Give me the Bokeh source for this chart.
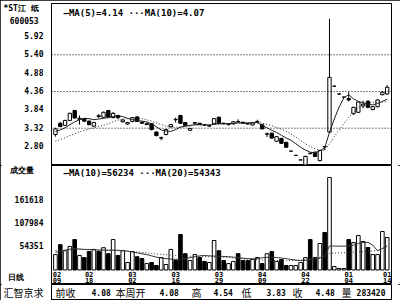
from bokeh.plotting import figure
from bokeh.layouts import column
from bokeh.models import Range1d, FixedTicker, PrintfTickFormatter, Span, Label
from bokeh.core.properties import value
from bokeh.embed import file_html
from bokeh.resources import INLINE

# ---------------- data ----------------
opens  = [3.14, 3.46, 3.40, 3.54, 3.82, 3.57, 3.59, 3.52, 3.38, 3.67,
          3.63, 3.82, 3.62, 3.68, 3.50, 3.44, 3.51, 3.64, 3.49, 3.42,
          3.45, 3.21, 3.04, 3.14, 3.36, 3.57, 3.68, 3.48, 3.26, 3.46,
          3.46, 3.42, 3.38, 3.45, 3.63, 3.46, 3.42, 3.44, 3.51, 3.49,
          3.45, 3.41, 3.49, 3.42, 3.15, 3.18, 2.95, 3.03, 2.92, 2.67,
          2.55, 2.42, 2.28, 2.61, 2.64, 2.40, 2.80, 3.21, 4.51, 4.29,
          4.20, 4.16, 3.73, 3.77, 3.95, 4.08, 3.85, 3.93, 4.27, 4.29]
highs  = [3.33, 3.50, 3.56, 3.76, 3.84, 3.68, 3.61, 3.54, 3.50, 3.72,
          3.79, 3.84, 3.78, 3.70, 3.58, 3.50, 3.64, 3.66, 3.52, 3.48,
          3.47, 3.23, 3.08, 3.30, 3.44, 3.62, 3.70, 3.50, 3.33, 3.50,
          3.47, 3.44, 3.42, 3.60, 3.65, 3.48, 3.44, 3.52, 3.57, 3.50,
          3.47, 3.48, 3.56, 3.44, 3.20, 3.19, 3.10, 3.05, 2.93, 2.67,
          2.55, 2.42, 2.54, 2.63, 2.66, 2.70, 2.81, 6.42, 4.52, 4.30,
          4.21, 4.34, 3.93, 4.08, 4.10, 4.12, 3.95, 4.14, 4.36, 4.54]
lows   = [3.08, 3.35, 3.38, 3.52, 3.59, 3.42, 3.50, 3.40, 3.36, 3.60,
          3.62, 3.62, 3.60, 3.58, 3.48, 3.42, 3.49, 3.50, 3.44, 3.41,
          3.26, 3.09, 2.98, 3.12, 3.34, 3.48, 3.44, 3.38, 3.24, 3.44,
          3.42, 3.38, 3.36, 3.44, 3.44, 3.42, 3.40, 3.43, 3.48, 3.45,
          3.42, 3.40, 3.47, 3.29, 3.07, 3.02, 2.93, 2.88, 2.77, 2.67,
          2.55, 2.42, 2.25, 2.58, 2.50, 2.38, 2.70, 3.18, 4.50, 4.28,
          4.19, 4.08, 3.70, 3.75, 3.88, 3.89, 3.83, 3.91, 4.25, 4.27]
closes = [3.30, 3.37, 3.54, 3.74, 3.61, 3.60, 3.52, 3.42, 3.48, 3.65,
          3.77, 3.63, 3.74, 3.62, 3.55, 3.48, 3.62, 3.51, 3.46, 3.45,
          3.28, 3.11, 3.05, 3.28, 3.42, 3.56, 3.46, 3.40, 3.31, 3.48,
          3.43, 3.41, 3.39, 3.59, 3.45, 3.45, 3.43, 3.50, 3.50, 3.46,
          3.44, 3.47, 3.51, 3.30, 3.16, 3.04, 3.08, 2.89, 2.78, 2.67,
          2.55, 2.42, 2.52, 2.60, 2.52, 2.69, 2.79, 4.76, 4.51, 4.29,
          4.20, 4.12, 3.91, 4.06, 4.00, 3.91, 3.93, 4.12, 4.34, 4.48]
ma5    = [3.23, 3.27, 3.33, 3.42, 3.50, 3.56, 3.60, 3.59, 3.56, 3.58,
          3.60, 3.62, 3.65, 3.67, 3.65, 3.60, 3.56, 3.54, 3.52, 3.50,
          3.44, 3.36, 3.27, 3.24, 3.23, 3.28, 3.35, 3.38, 3.40, 3.42,
          3.42, 3.41, 3.41, 3.43, 3.45, 3.45, 3.45, 3.46, 3.47, 3.47,
          3.47, 3.48, 3.48, 3.40, 3.33, 3.26, 3.20, 3.12, 3.04, 2.98,
          2.88, 2.78, 2.70, 2.64, 2.62, 2.68, 2.76, 3.20, 3.58, 3.92,
          4.18, 4.27, 4.15, 4.08, 4.04, 4.00, 3.98, 4.02, 4.08, 4.14]
ma10   = [2.95, 3.00, 3.05, 3.11, 3.16, 3.22, 3.26, 3.30, 3.33, 3.37,
          3.40, 3.45, 3.50, 3.55, 3.58, 3.59, 3.60, 3.60, 3.59, 3.56,
          3.52, 3.47, 3.42, 3.38, 3.36, 3.35, 3.35, 3.36, 3.38, 3.40,
          3.41, 3.42, 3.42, 3.42, 3.43, 3.44, 3.45, 3.45, 3.46, 3.46,
          3.46, 3.46, 3.47, 3.46, 3.43, 3.39, 3.34, 3.29, 3.23, 3.15,
          3.07, 2.97, 2.88, 2.80, 2.74, 2.70, 2.69, 2.88, 3.08, 3.27,
          3.45, 3.62, 3.78, 3.90, 3.98, 4.03, 4.05, 4.05, 4.06, 4.07]
volume = [36000, 59000, 45000, 55000, 71000, 34000, 29000, 43000, 48000, 43000,
          52000, 38000, 71000, 34000, 45000, 17500, 43000, 31000, 26800, 15000,
          17500, 10500, 29000, 12800, 48000, 22000, 82800, 38000, 22000, 36000,
          29000, 20000, 17500, 68800, 45000, 22000, 15000, 20000, 38000, 22000,
          22000, 24500, 29000, 15000, 38000, 43000, 20000, 24500, 10500, 10500,
          10500, 17500, 29000, 71000, 29000, 61800, 87400, 215700, 8000, 3500,
          3500, 71000, 64000, 80400, 66500, 52500, 36000, 36000, 89800, 75800]
vol_ma10 = [41500, 43000, 46000, 48500, 50000, 49000, 48000, 47500, 47000, 46500,
            46500, 46000, 46500, 46000, 45500, 44000, 42000, 40000, 38000, 36000,
            33000, 30000, 28000, 26500, 25500, 24500, 26000, 27000, 28500, 31000,
            33000, 33800, 33000, 32500, 32000, 31500, 31000, 30000, 29000, 27500,
            26500, 26000, 27000, 28500, 29500, 29800, 29000, 28000, 26500, 24500,
            23000, 22000, 22500, 24500, 26500, 28400, 32000, 56000, 56000, 55500,
            55500, 56000, 58000, 62000, 64000, 64500, 58000, 45000, 50000, 56234]
vol_ma20 = [45500, 46000, 46500, 47000, 47500, 48000, 48000, 48000, 47500, 47000,
            46500, 46000, 45500, 45000, 44500, 44000, 43000, 42000, 41000, 40000,
            38500, 37500, 36500, 35500, 34500, 33800, 33000, 32500, 32000, 31500,
            31500, 31500, 31000, 30500, 30000, 29800, 29000, 28000, 27000, 26000,
            25000, 24500, 24000, 23500, 23000, 22500, 22000, 22000, 22000, 22000,
            22500, 23000, 24000, 25500, 26500, 27500, 28400, 39000, 39500, 40000,
            40500, 41000, 41500, 42000, 43000, 43800, 44500, 45500, 50000, 54343]

date_pos    = [0, 7, 16, 25, 34, 43, 52, 61, 69]
date_month  = ["02", "02", "03", "03", "03", "04", "04", "01", "01"]
date_day    = ["09", "18", "02", "16", "29", "09", "22", "04", "14"]
price_ticks = [2.80, 3.32, 3.84, 4.36, 4.88, 5.40, 5.92]
price_grid  = [3.32, 4.36, 5.40]
vol_ticks   = [54351, 107984, 161618]

stock_name = "*ST江 纸"
stock_code = "600053"
ma_legend  = "—MA(5)=4.14 ···MA(10)=4.07"
vol_legend = "—MA(10)=56234 ···MA(20)=54343"
vol_title  = "成交量"
period     = "日线"
source     = "汇智京求"
status_items = [("前收", 52), ("4.08", 88), ("本周开", 112), ("4.08", 156),
                ("高", 188), ("4.54", 210), ("低", 238), ("3.83", 263),
                ("收", 289), ("4.48", 312), ("量", 338)]
status_last = "283420"

# label slots in the left margin (axis coordinates of each panel)
name_at, code_at = 6.711, 6.343          # price-axis positions
vtitle_at, period_at = 236700, -17500    # volume-axis positions
NB = "\u00a0"

# ---------------- derived ----------------
N = len(closes)
idx = list(range(N))
up_i = [i for i in idx if closes[i] >= opens[i]]
dn_i = [i for i in idx if closes[i] < opens[i]]
body_top = [max(o, c) for o, c in zip(opens, closes)]
body_bot = [min(o, c) for o, c in zip(opens, closes)]

MONO = "DejaVu Sans Mono"
CJK = "Noto Sans CJK SC"

xr = Range1d(-0.82, 69.9)


def style_axis(ax, font, size, bold=True):
    ax.major_label_text_font = font
    ax.major_label_text_font_size = size
    ax.major_label_text_font_style = "bold" if bold else "normal"
    ax.major_label_text_color = "black"
    ax.major_tick_line_color = None
    ax.minor_tick_line_color = None
    ax.axis_line_color = "black"
    ax.major_label_standoff = 2


# ---------------- price panel ----------------
pp = figure(width=400, height=165, x_range=xr, y_range=Range1d(2.263, 6.853),
            output_backend="svg", toolbar_location=None, x_axis_location=None,
            min_border_left=48, min_border_right=9, min_border_top=3, min_border_bottom=0)
pp.grid.grid_line_color = None
pp.outline_line_color = "black"
ya = pp.yaxis[0]
ya.ticker = FixedTicker(ticks=price_ticks + [code_at, name_at])
ya.formatter = PrintfTickFormatter(format="%.2f")
ya.major_label_overrides = {name_at: stock_name + NB, code_at: stock_code + NB}
style_axis(ya, MONO, "8px")

for g in price_grid:
    pp.add_layout(Span(location=g, dimension="width", line_color="black",
                       line_dash="1 2", line_width=1))

pp.segment(x0=idx, y0=lows, x1=idx, y1=highs, line_color="black", line_width=1)
pp.vbar(x=up_i, width=0.7, top=[body_top[i] for i in up_i], bottom=[body_bot[i] for i in up_i],
        fill_color="white", line_color="black", line_width=1)
pp.vbar(x=dn_i, width=0.7, top=[body_top[i] for i in dn_i], bottom=[body_bot[i] for i in dn_i],
        fill_color="black", line_color="black", line_width=1)
pp.line(idx, ma5, line_color="#222222", line_width=1)
pp.line(idx, ma10, line_color="#222222", line_width=1, line_dash="1 2")

pp.add_layout(Label(x=12, y=153, x_units="screen", y_units="screen", text=ma_legend,
                    text_font=MONO, text_font_size="9px", text_font_style="bold",
                    text_baseline="middle", text_color="black"))

# ---------------- volume panel ----------------
pv = figure(width=400, height=119, x_range=xr, y_range=Range1d(-33814, 243700),
            output_backend="svg", toolbar_location=None, x_axis_location=None,
            min_border_left=48, min_border_right=9, min_border_top=0, min_border_bottom=0)
pv.grid.grid_line_color = None
pv.outline_line_color = "black"
va = pv.yaxis[0]
va.ticker = FixedTicker(ticks=[period_at] + vol_ticks + [vtitle_at])
va.formatter = PrintfTickFormatter(format="%d")
va.major_label_overrides = {vtitle_at: vol_title + NB * 2, period_at: period + NB * 4}
style_axis(va, MONO, "8px")

pv.vbar(x=up_i, width=0.75, top=[volume[i] for i in up_i], bottom=0,
        fill_color="white", line_color="black", line_width=1)
pv.vbar(x=dn_i, width=0.75, top=[volume[i] for i in dn_i], bottom=0,
        fill_color="black", line_color="black", line_width=1)
pv.line(idx, vol_ma10, line_color="#333333", line_width=1)
pv.line(idx, vol_ma20, line_color="#333333", line_width=1, line_dash="1 2")

xoff = [1.5] + [0] * (len(date_pos) - 1)
pv.text(x=date_pos, y=[0] * len(date_pos), text=date_month, x_offset=xoff, y_offset=1,
        text_font=value(MONO), text_font_size="7px", text_font_style="bold",
        text_align="center", text_baseline="top", text_color="black")
pv.text(x=date_pos, y=[0] * len(date_pos), text=date_day, x_offset=xoff, y_offset=7,
        text_font=value(MONO), text_font_size="7px", text_font_style="bold",
        text_align="center", text_baseline="top", text_color="black")

pv.add_layout(Label(x=12, y=112, x_units="screen", y_units="screen", text=vol_legend,
                    text_font=MONO, text_font_size="9px", text_font_style="bold",
                    text_baseline="middle", text_color="black"))

# ---------------- status bar ----------------
ps = figure(width=400, height=16, x_range=Range1d(0, 352), y_range=Range1d(0, 16),
            output_backend="svg", toolbar_location=None, x_axis_location=None,
            min_border_left=48, min_border_right=0, min_border_top=0, min_border_bottom=0)
ps.grid.grid_line_color = None
ps.outline_line_color = "black"
sa = ps.yaxis[0]
sa.ticker = FixedTicker(ticks=[8])
sa.major_label_overrides = {8: source}
style_axis(sa, CJK, "10px", bold=False)
for t, xpos in status_items:
    is_num = t[0].isdigit()
    ps.add_layout(Label(x=xpos - 48, y=8, x_units="screen", y_units="screen", text=t,
                        text_font=MONO if is_num else CJK,
                        text_font_size="8px" if is_num else "10px",
                        text_font_style="bold" if is_num else "normal",
                        text_baseline="middle", text_color="black"))
ps.add_layout(Label(x=334, y=8, x_units="screen", y_units="screen", text=status_last,
                    text_font=MONO, text_font_size="8px", text_font_style="bold",
                    text_align="right", text_baseline="middle", text_color="black"))

layout = column(pp, pv, ps, styles={"outline": "2px solid black", "outline-offset": "-2px"})
open("out.html", "w").write(file_html(layout, INLINE))
